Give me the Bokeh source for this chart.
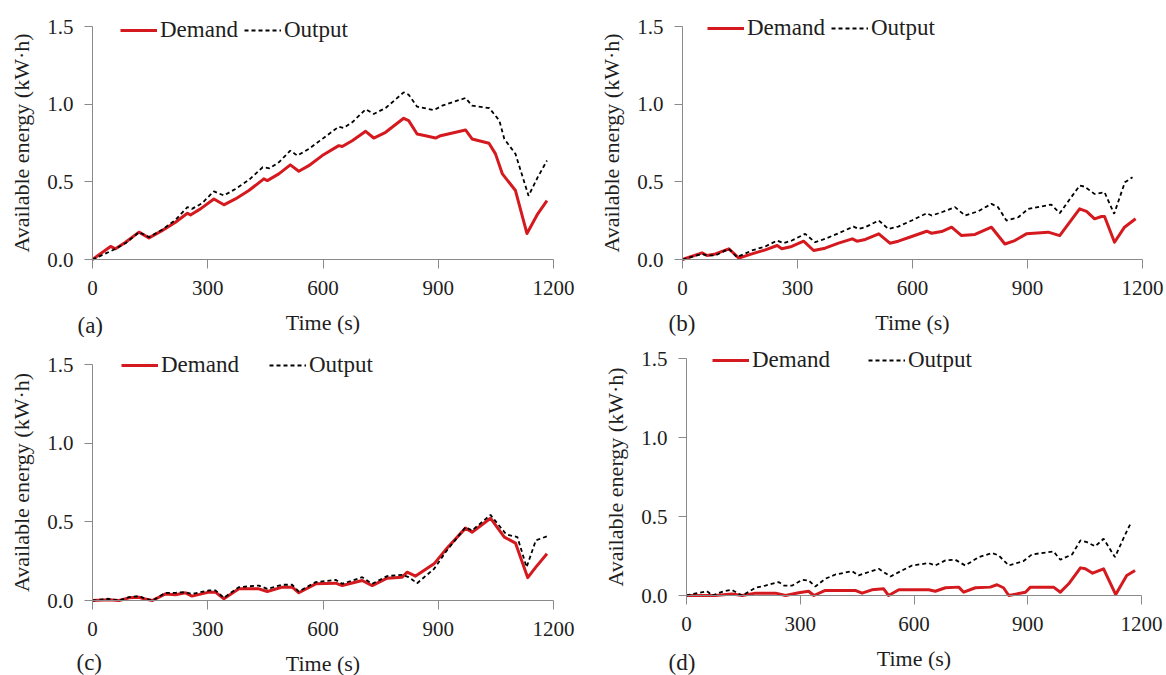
from bokeh.plotting import figure
from bokeh.layouts import column, row
from bokeh.models import (Range1d, FixedTicker, NumeralTickFormatter, Legend,
                          LegendItem, Label)
from bokeh.embed import file_html
from bokeh.resources import INLINE

# ---- data: available energy (kW·h) against time (s) ----
t_a_demand = [0, 47, 60, 86, 121, 147, 181, 216, 247, 255, 281, 316, 342, 372, 407, 446, 455, 485, 515, 537,
              563, 598, 641, 650, 676, 711, 732, 763, 810, 823, 845, 867, 893, 906, 971, 988, 1032, 1049, 1067, 1101,
              1131, 1159, 1183]
a_demand = [0, 0.084, 0.069, 0.111, 0.176, 0.139, 0.186, 0.240, 0.298, 0.287, 0.326, 0.390, 0.352, 0.390, 0.444,
            0.519, 0.508, 0.551, 0.609, 0.568, 0.604, 0.669, 0.733, 0.727, 0.765, 0.825, 0.782, 0.819, 0.909, 0.894,
            0.808, 0.797, 0.782, 0.797, 0.834, 0.776, 0.748, 0.680, 0.551, 0.444, 0.167, 0.294, 0.379]
t_a_output = [0, 51, 86, 121, 147, 181, 216, 247, 259, 285, 316, 342, 372, 407, 443, 461, 485, 515, 533, 563,
              598, 641, 654, 676, 711, 732, 763, 810, 823, 845, 889, 910, 971, 988, 1033, 1059, 1072, 1101, 1135, 1159,
              1183]
a_output = [0, 0.058, 0.105, 0.176, 0.144, 0.191, 0.255, 0.337, 0.326, 0.362, 0.439, 0.412, 0.454, 0.512, 0.594,
            0.587, 0.626, 0.701, 0.669, 0.712, 0.776, 0.855, 0.847, 0.883, 0.967, 0.937, 0.975, 1.076, 1.061, 0.984,
            0.962, 0.990, 1.040, 0.990, 0.975, 0.894, 0.776, 0.680, 0.410, 0.530, 0.637]

t_b_demand = [0, 51, 64, 86, 121, 147, 181, 216, 247, 259, 285, 316, 342, 372, 407, 443, 455, 477, 512, 541,
              563, 598, 637, 650, 676, 702, 728, 763, 806, 841, 867, 897, 954, 984, 1036, 1054, 1075, 1093, 1101, 1127,
              1153, 1182]
b_demand = [0, 0.043, 0.026, 0.036, 0.069, 0.009, 0.036, 0.062, 0.090, 0.069, 0.084, 0.118, 0.058, 0.073, 0.105,
            0.133, 0.118, 0.129, 0.165, 0.105, 0.118, 0.148, 0.182, 0.169, 0.180, 0.208, 0.154, 0.161, 0.208, 0.100,
            0.122, 0.165, 0.176, 0.154, 0.326, 0.310, 0.262, 0.277, 0.277, 0.111, 0.208, 0.262]
t_b_output = [0, 51, 64, 86, 121, 142, 181, 216, 247, 264, 285, 320, 346, 372, 407, 446, 459, 477, 512, 537,
              563, 598, 637, 650, 676, 711, 737, 772, 806, 823, 845, 876, 902, 962, 984, 1036, 1049, 1075, 1101, 1126,
              1154, 1174]
b_output = [0, 0.036, 0.026, 0.026, 0.069, 0.015, 0.058, 0.084, 0.122, 0.105, 0.122, 0.165, 0.111, 0.133, 0.169,
            0.212, 0.197, 0.208, 0.251, 0.197, 0.212, 0.251, 0.298, 0.283, 0.304, 0.337, 0.283, 0.311, 0.358, 0.337,
            0.251, 0.272, 0.326, 0.354, 0.298, 0.476, 0.469, 0.422, 0.433, 0.294, 0.497, 0.530]

t_c_demand = [0, 42, 69, 95, 121, 134, 156, 190, 216, 242, 259, 303, 320, 342, 381, 433, 455, 494, 520, 537,
              581, 633, 650, 702, 728, 767, 806, 819, 841, 889, 919, 971, 988, 1036, 1072, 1101, 1133, 1154, 1183]
c_demand = [0, 0.004, 0, 0.017, 0.021, 0.011, 0, 0.042, 0.036, 0.049, 0.028, 0.053, 0.053, 0.011, 0.074, 0.074,
            0.057, 0.085, 0.085, 0.049, 0.106, 0.110, 0.095, 0.127, 0.095, 0.142, 0.148, 0.180, 0.155, 0.233,
            0.322, 0.460, 0.434, 0.523, 0.403, 0.365, 0.145, 0.212, 0.297]
t_c_output = [0, 42, 69, 95, 121, 134, 156, 190, 216, 242, 259, 303, 320, 342, 381, 433, 455, 494, 520, 537,
              581, 633, 650, 702, 728, 767, 806, 823, 845, 889, 919, 971, 988, 1036, 1077, 1106, 1130, 1154, 1183]
c_output = [0, 0.011, 0, 0.021, 0.028, 0.015, 0, 0.049, 0.049, 0.053, 0.042, 0.064, 0.064, 0.017, 0.085, 0.095,
            0.074, 0.100, 0.100, 0.057, 0.117, 0.131, 0.106, 0.148, 0.106, 0.155, 0.163, 0.148, 0.110, 0.201,
            0.307, 0.466, 0.445, 0.544, 0.420, 0.403, 0.212, 0.382, 0.408]

t_d_demand = [0, 32, 76, 120, 147, 182, 235, 261, 296, 322, 336, 366, 445, 463, 489, 520, 533, 560, 639, 656,
              683, 718, 731, 762, 801, 819, 836, 850, 894, 907, 968, 986, 1008, 1039, 1052, 1071, 1100, 1132, 1161, 1183]
d_demand = [0, 0, 0, 0.010, 0, 0.015, 0.015, 0, 0.017, 0.027, 0, 0.032, 0.032, 0.015, 0.036, 0.042, 0, 0.036,
            0.036, 0.027, 0.049, 0.053, 0.021, 0.049, 0.053, 0.068, 0.049, 0, 0.021, 0.053, 0.053, 0.021, 0.074,
            0.175, 0.169, 0.141, 0.169, 0.006, 0.127, 0.158]
t_d_output = [0, 32, 54, 68, 98, 120, 134, 147, 182, 208, 243, 257, 279, 305, 322, 340, 366, 393, 437, 454,
              472, 507, 538, 560, 595, 639, 656, 683, 709, 735, 771, 806, 823, 850, 889, 911, 968, 986, 1017, 1039,
              1056, 1078, 1100, 1130, 1154, 1173]
d_output = [0, 0.017, 0.027, 0, 0.027, 0.036, 0.015, 0, 0.049, 0.063, 0.085, 0.063, 0.063, 0.099, 0.095, 0.057,
            0.106, 0.133, 0.154, 0.127, 0.142, 0.169, 0.120, 0.148, 0.190, 0.205, 0.190, 0.222, 0.226, 0.190,
            0.243, 0.268, 0.254, 0.190, 0.218, 0.260, 0.279, 0.226, 0.260, 0.349, 0.338, 0.311, 0.359, 0.243,
            0.370, 0.465]

x_ticks = [0, 300, 600, 900, 1200]
y_ticks = [0, 0.5, 1.0, 1.5]
X_MAX = 1200
Y_MAX = 1.5

FONT = "Liberation Serif"
TEXT = "#1e1e1e"
AXIS = "#8a8a8a"
RED = "#d51a1f"


def panel(tag, td, dem, to, out, w, h, ax_left, ax_right, ax_top, ax_bottom,
          leg_x, leg_cy, gap, tag_x, tag_cy):
    """One panel. The frame fills the whole figure; both axes are pinned at
    zero and bounded to the data extent so the legend and the panel tag can
    sit anywhere in the figure without being clipped.
    ax_* are the pixel positions of t=0, t=1200, E=1.5 and E=0."""
    kx = X_MAX / (ax_right - ax_left)
    ky = Y_MAX / (ax_bottom - ax_top)
    x_rng = Range1d(-ax_left * kx, X_MAX + (w - ax_right) * kx)
    y_rng = Range1d(-(h - ax_bottom) * ky, Y_MAX + ax_top * ky)

    p = figure(width=w, height=h, output_backend="svg", toolbar_location=None,
               x_range=x_rng, y_range=y_rng, min_border=0)
    p.outline_line_color = None
    p.grid.visible = False
    p.background_fill_color = "white"
    p.border_fill_color = "white"

    for ax in (p.xaxis[0], p.yaxis[0]):
        ax.fixed_location = 0
        ax.axis_line_color = AXIS
        ax.major_tick_line_color = AXIS
        ax.minor_tick_line_color = None
        ax.major_tick_in = 0
        ax.major_label_text_font = FONT
        ax.major_label_text_font_size = "21px"
        ax.major_label_text_color = TEXT
        ax.axis_label_text_font = FONT
        ax.axis_label_text_font_size = "22px"
        ax.axis_label_text_font_style = "normal"
        ax.axis_label_text_color = TEXT

    p.xaxis.bounds = (0, X_MAX)
    p.yaxis.bounds = (0, Y_MAX)
    p.xaxis.ticker = FixedTicker(ticks=x_ticks)
    p.yaxis.ticker = FixedTicker(ticks=y_ticks)
    p.yaxis.formatter = NumeralTickFormatter(format="0.0")
    p.xaxis.major_tick_out = 9
    p.yaxis.major_tick_out = 8
    p.xaxis.major_label_standoff = 12
    p.yaxis.major_label_standoff = 11
    p.xaxis.axis_label = "Time (s)"
    p.yaxis.axis_label = "Available energy (kW\u00b7h)"
    p.xaxis.axis_label_standoff = 12
    p.yaxis.axis_label_standoff = 10

    r_dem = p.line(td, dem, line_color=RED, line_width=3, line_join="round")
    r_out = p.line(to, out, line_color="black", line_width=1.8, line_dash="4 3")

    item_h = 26
    leg = Legend(items=[LegendItem(label="Demand", renderers=[r_dem]),
                        LegendItem(label="Output", renderers=[r_out])],
                 orientation="horizontal",
                 location=(leg_x, h - leg_cy - item_h // 2),
                 glyph_width=37, glyph_height=item_h, label_height=item_h, label_standoff=3,
                 spacing=gap, padding=0, margin=0, border_line_color=None,
                 background_fill_alpha=0, label_text_font=FONT,
                 label_text_font_size="23px", label_text_color=TEXT)
    p.add_layout(leg)

    p.add_layout(Label(x=tag_x, y=h - tag_cy, x_units="screen", y_units="screen", text=tag,
                       text_font=FONT, text_font_size="23px", text_color=TEXT,
                       text_baseline="middle", text_align="left"))
    return p


pa = panel("(a)", t_a_demand, a_demand, t_a_output, a_output, 583, 337,
           92, 553, 26, 259, 120, 30, 6, 77, 325)
pb = panel("(b)", t_b_demand, b_demand, t_b_output, b_output, 583, 337,
           99, 559, 26, 259, 124, 28, 6, 85, 323)
pc = panel("(c)", t_c_demand, c_demand, t_c_output, c_output, 583, 338,
           92, 553, 27, 263, 121, 28, 30, 76, 325)
pd = panel("(d)", t_d_demand, d_demand, t_d_output, d_output, 583, 338,
           103, 558, 21, 258, 129, 23, 38, 85, 325)

layout = column(row(pa, pb, spacing=0), row(pc, pd, spacing=0), spacing=0)

with open("out.html", "w") as f:
    f.write(file_html(layout, INLINE))
